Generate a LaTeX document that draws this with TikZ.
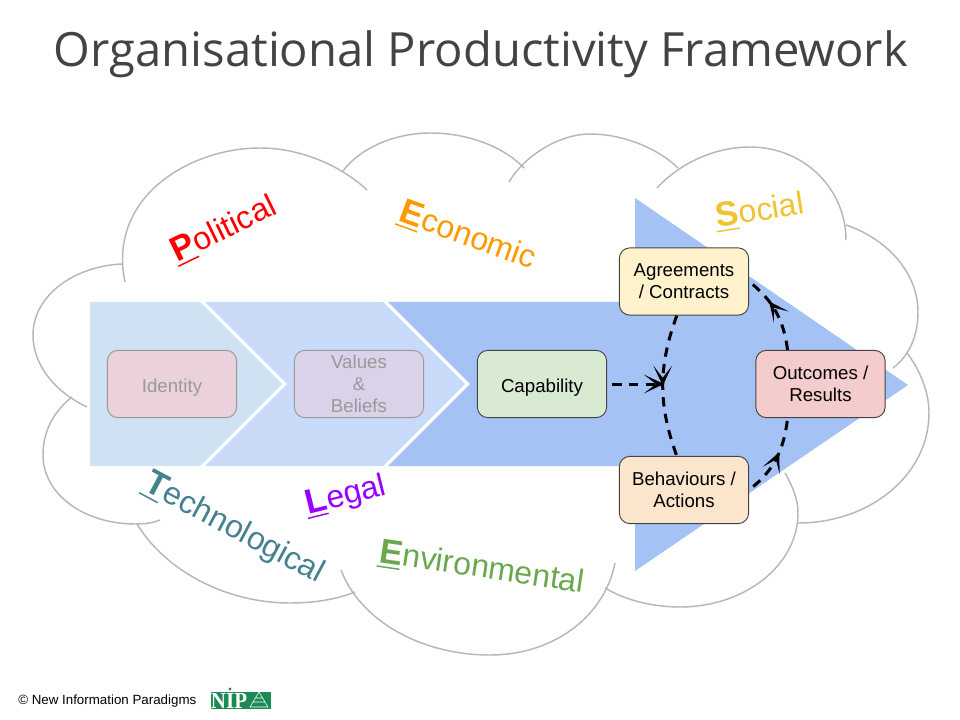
\documentclass[tikz,border=0pt]{standalone}
\usepackage{fontspec}
\usepackage{graphicx}
\setmainfont{Liberation Sans}
\newfontfamily\titlefont{Open Sans}
\newfontfamily\logofont{Liberation Serif}
\usetikzlibrary{arrows.meta,decorations.markings}
\newcommand{\bigletter}[1]{{\fontsize{26}{26}\selectfont\bfseries\setbox0=\hbox{#1}\rlap{\kern-1pt\rule[-3.5pt]{\wd0}{1.1pt}}\box0}}
\tikzset{
  lobe/.style={draw=cloudgray,line width=1.1pt},
  stepbox/.style={draw=boxline,line width=0.7pt,rounded corners=8pt,minimum width=97pt,minimum height=50.5pt,
    align=center,font=\fontsize{14}{16.5}\selectfont},
  fadedbox/.style={stepbox,draw=fadeline,text=fadetext},
  dropone/.style={execute at begin node={\rule{0pt}{15.5pt}}},
  droptwo/.style={execute at begin node={\rule{0pt}{14pt}}},
  force/.style={font=\fontsize{24}{28}\selectfont,inner sep=0pt},
  loopline/.style={line width=2.25pt,dash pattern=on 7pt off 5.5pt},
  loophead/.style={postaction={decorate,decoration={markings,mark=at position #1 with
    {\arrow[solid]{Stealth[length=15pt,width=14pt,inset=9pt]}}}}}
}
\definecolor{cloudgray}{HTML}{B7B7B7}
\definecolor{boxline}{HTML}{434343}
\definecolor{fadeline}{HTML}{999999}
\definecolor{fadetext}{HTML}{999999}
\definecolor{titlegray}{HTML}{434343}
\definecolor{arrowblue}{HTML}{A4C2F4}
\definecolor{midblue}{HTML}{C9DAF8}
\definecolor{paleblue}{HTML}{CFE2F3}
\definecolor{nipgreen}{HTML}{1B8A55}
\begin{document}
\begin{tikzpicture}[x=0.75pt,y=-0.75pt]
\useasboundingbox (0,0) rectangle (960,720);
\node (title) [font=\titlefont\fontsize{35.4}{40}\selectfont,text=titlegray] at (481,54) {Organisational Productivity Framework};

\draw [lobe] (122,264) .. controls (75,266) and (33,295) .. (33,335) .. controls (33,365) and (55,392) .. (87,407);
\draw [lobe] (125,282) .. controls (118,250) and (125,215) .. (155,187) .. controls (185,160) and (225,148) .. (260,148) .. controls (300,148) and (340,165) .. (367,190);
\draw [lobe] (343,171) .. controls (360,148) and (395,133) .. (430,133) .. controls (470,133) and (505,148) .. (524,168);
\draw [lobe] (509,182) .. controls (525,155) and (560,134) .. (590,134) .. controls (625,134) and (660,150) .. (678,168);
\draw [lobe] (657,188) .. controls (680,163) and (715,147) .. (750,147) .. controls (805,147) and (846,190) .. (846,240);
\draw [lobe] (846,225) .. controls (890,240) and (918,275) .. (918,312) .. controls (918,335) and (910,355) .. (893,368);
\draw [lobe] (907,353) .. controls (920,370) and (929,392) .. (929,413) .. controls (929,475) and (870,523) .. (798,523);
\draw [lobe] (785,473) .. controls (793,487) and (798,500) .. (798,513) .. controls (798,565) and (745,607) .. (680,607) .. controls (652,607) and (625,600) .. (605,588);
\draw [lobe] (615,563) .. controls (605,615) and (555,655) .. (490,655) .. controls (420,655) and (360,620) .. (341,570);
\draw [lobe] (137,524) .. controls (165,570) and (225,603) .. (290,603) .. controls (312,603) and (335,600) .. (355,592);
\draw [lobe] (72,397) .. controls (53,412) and (43,432) .. (43,455) .. controls (43,495) and (85,524) .. (135,524) .. controls (145,524) and (152,523) .. (160,520);

\fill [arrowblue] (388,302) -- (635,302) -- (635,198) -- (908,385) -- (635,571) -- (635,466) -- (388,466) -- (470,384) -- cycle;
\fill [midblue] (205,302) -- (383,302) -- (465,384) -- (383,466) -- (205,466) -- (287,384) -- cycle;
\fill [paleblue] (90,302) -- (200,302) -- (282,384) -- (200,466) -- (90,466) -- cycle;

\node (identity) [fadedbox,dropone,fill={rgb,255:red,234;green,209;blue,220}] at (172,384) {Identity};
\node (values) [fadedbox,droptwo,fill={rgb,255:red,217;green,210;blue,233}] at (359,384) {Values\\\&\\Beliefs};
\node (capability) [stepbox,dropone,fill={rgb,255:red,217;green,234;blue,211}] at (542,384) {Capability};
\node (agreements) [stepbox,droptwo,fill={rgb,255:red,255;green,242;blue,204}] at (684,281.5) {Agreements\\/ Contracts};
\node (outcomes) [stepbox,droptwo,fill={rgb,255:red,244;green,204;blue,204}] at (820.5,384) {Outcomes /\\Results};
\node (behaviours) [stepbox,droptwo,fill={rgb,255:red,252;green,229;blue,205}] at (684,490) {Behaviours /\\Actions};

\coordinate (meet) at (664,384);
\draw [loopline,loophead=0.5] (agreements.258) to [bend right=20] (behaviours.102);
\draw [loopline,shorten <=4pt,-{Stealth[length=15pt,width=14pt,inset=9pt]}] (capability.east) -- (meet);
\draw [loopline,shorten <=4pt,loophead=0.58] (behaviours.east) to [bend right=22] (outcomes.226);
\draw [loopline,loophead=0.65] (outcomes.134) to [bend right=22] (agreements.east);

\node (political) [force,text={rgb,255:red,255;green,0;blue,0},rotate=26] at (224,229) {\bigletter{P}olitical};
\node (economic) [force,text={rgb,255:red,255;green,153;blue,0},rotate=-20] at (468,236) {\bigletter{E}conomic};
\node (social) [force,text={rgb,255:red,241;green,194;blue,50},rotate=9] at (760,211) {\bigletter{S}ocial};
\node (technological) [force,text={rgb,255:red,69;green,129;blue,142},rotate=-28] at (234,529) {\bigletter{T}echnological};
\node (legal) [force,text={rgb,255:red,153;green,0;blue,255},rotate=14] at (346,496) {\bigletter{L}egal};
\node (environmental) [force,text={rgb,255:red,106;green,168;blue,79},rotate=-8.5] at (482,568) {\bigletter{E}nvironmental};

\node (copyright) [font=\fontsize{10}{12}\selectfont,inner sep=0pt,anchor=west] at (18,701) {© New Information Paradigms};
\fill [nipgreen] (211,692) rectangle (271,709);
\fill [nipgreen] (230,689) circle (1.7);
\node (nip) [font=\logofont\bfseries\fontsize{15}{15}\selectfont,text=white,inner sep=0pt] at (229,700.5) {\scalebox{1.05}[1.15]{NIP}};
\draw [white,line width=0.4pt] (250,707) -- (259,692) -- (268,707) -- cycle (253,702) -- (265,702) (255.5,698) -- (262.5,698);
\end{tikzpicture}
\end{document}
